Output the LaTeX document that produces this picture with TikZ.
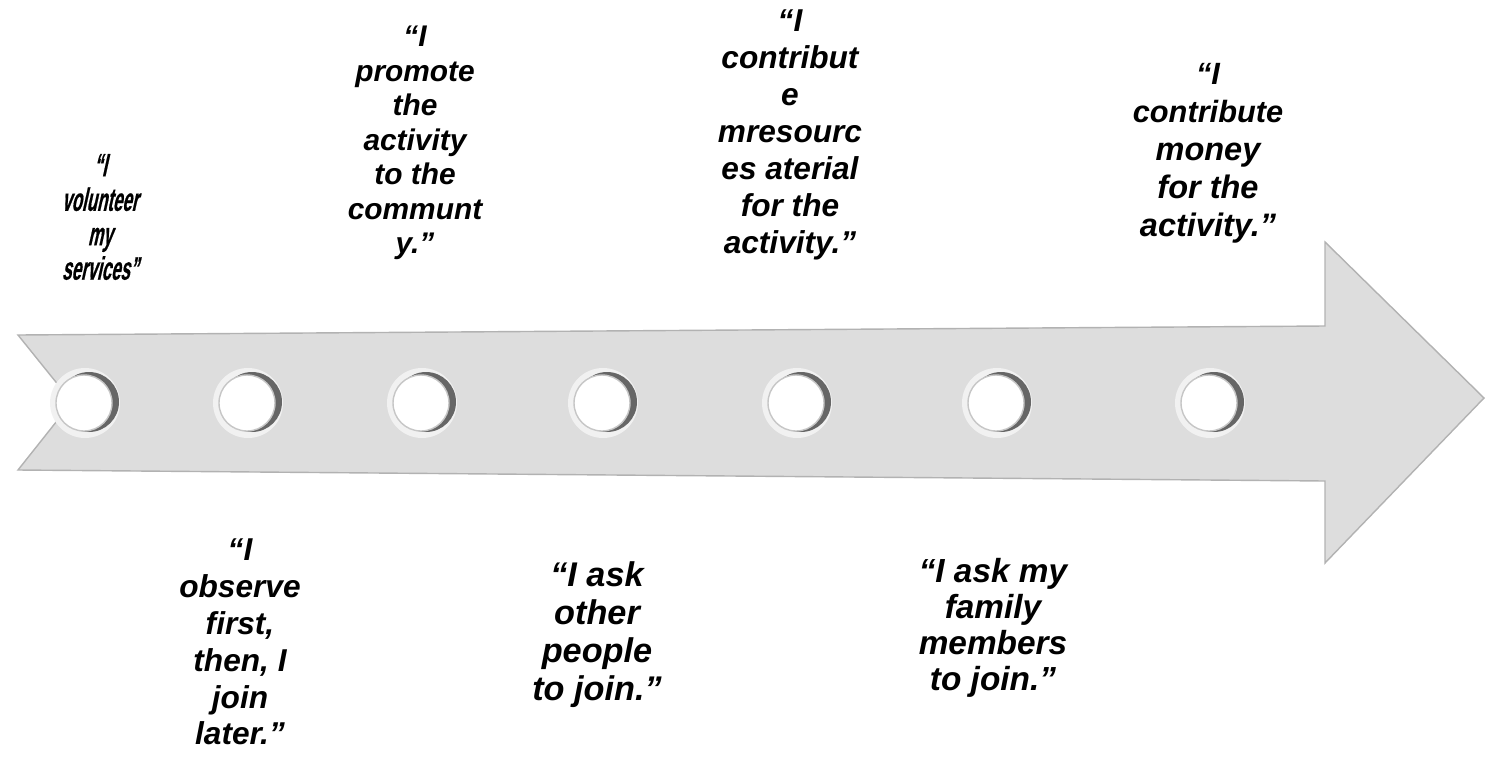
\documentclass[tikz,border=0pt]{standalone}
\usepackage{fontspec}
\setmainfont{Liberation Sans}
\newfontfamily\narrowsans[FakeStretch=0.52,FakeSlant=0.22,FakeBold=0.5]{Liberation Sans Bold}
\definecolor{arrowgray}{RGB}{221,221,221}

\begin{document}
\begin{tikzpicture}[x=0.02cm,y=-0.02cm,
    quote/.style={align=center, inner sep=0pt},
    hole/.style={circle, draw=gray!45, line width=0.8pt, fill=white,
                 minimum size=1.12cm, inner sep=0pt}]
    \useasboundingbox (0,0) rectangle (1485,758);

    % the big arrow
    \filldraw[fill=arrowgray, draw=gray!60, line width=0.8pt]
        (18,335) -- (1325,326) -- (1325,242) -- (1484,398) -- (1325,563)
        -- (1325,481) -- (18,470) -- (72,402) -- cycle;

    % holes along the arrow
    \foreach \x [count=\i] in {85,248,422,603,797,997,1210} {
        \fill[white!60!arrowgray] (\x,403) circle (0.7cm);
        \fill[black!60] (\x+4,402) circle (0.6cm);
        \node[hole] (hole\i) at (\x-1,403) {};
    }

    % statements above
    \node[quote, font=\narrowsans\fontsize{18.5}{19.6}\selectfont]
        (volunteer) at (100,217) {“I\\volunteer\\my\\services”};
    \node[quote, font=\bfseries\itshape\fontsize{17}{19.6}\selectfont]
        (promote) at (415,143) {“I\\promote\\the\\activity\\to the\\communt\\y.”};
    \node[quote, font=\bfseries\itshape\fontsize{18}{21}\selectfont]
        (material) at (790,135) {“I\\contribut\\e\\mresourc\\es aterial\\for the\\activity.”};
    \node[quote, font=\bfseries\itshape\fontsize{18.5}{21.6}\selectfont]
        (money) at (1208,153) {{\fontsize{17.5}{21.6}\selectfont “I}\\{\fontsize{17.5}{21.6}\selectfont contribute}\\money\\for the\\activity.”};

    % statements below
    \node[quote, font=\bfseries\itshape\fontsize{18}{21}\selectfont]
        (observe) at (240,642) {“I\\observe\\first,\\then, I\\join\\later.”};
    \node[quote, font=\bfseries\itshape\fontsize{19.5}{21.6}\selectfont]
        (others) at (597,635) {“I ask\\other\\people\\to join.”};
    \node[quote, font=\bfseries\itshape\fontsize{19}{20.5}\selectfont]
        (family) at (993,628) {“I ask my\\family\\members\\to join.”};
\end{tikzpicture}
\end{document}
